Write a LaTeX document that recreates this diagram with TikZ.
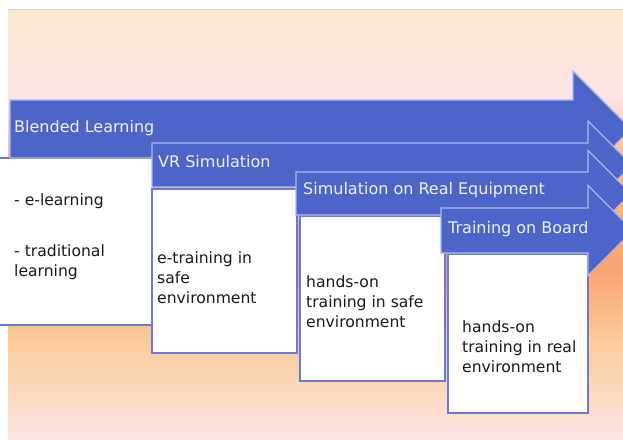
\documentclass[tikz,border=0pt]{standalone}
\usepackage{fontspec}
\setmainfont{DejaVu Sans}
\usetikzlibrary{positioning}
\definecolor{bgtop}{RGB}{251, 232, 204}
\definecolor{bgpink}{RGB}{253, 228, 232}
\definecolor{bgmid}{RGB}{249, 186, 142}
\definecolor{bgorange}{RGB}{248, 164, 114}
\definecolor{bglow}{RGB}{251, 203, 154}
\definecolor{bgbottom}{RGB}{252, 228, 226}
\definecolor{stageblue}{RGB}{77, 101, 201}
\definecolor{stageedge}{RGB}{172, 184, 234}
\definecolor{boxedge}{RGB}{104, 122, 212}
\definecolor{topline}{RGB}{196, 220, 240}
\pgfdeclareverticalshading{bgshade}{100bp}{%
  color(0bp)=(bgbottom); color(25bp)=(bgbottom); color(36.5bp)=(bglow);
  color(44.6bp)=(bgorange); color(57.4bp)=(bgmid); color(65bp)=(bgpink);
  color(75bp)=(bgtop); color(100bp)=(bgtop)}
\tikzset{
  arrowshape/.style={fill=stageblue, draw=stageedge, line width=1.2pt},
  stagebox/.style={
    rectangle, anchor=north west, inner sep=0pt, outer sep=0pt,
    fill=white, draw=boxedge, line width=1.2pt
  },
  headlabel/.style={
    font=\fontsize{16}{19}\selectfont, text=white!94!blue,
    anchor=base west, inner sep=0pt
  },
  bodytext/.style={
    font=\fontsize{15.6}{20}\selectfont, text=black!90,
    anchor=base west, align=left, inner sep=0pt
  }
}
% left x, body top, body bottom, shoulder x
\newcommand{\stagearrow}[4]{%
  \pgfmathsetmacro{\arrhalf}{(#3-#2)/2}
  \path[arrowshape] (#1,#2) -- (#4,#2) -- (#4,#2-\arrhalf)
    -- (#4+2*\arrhalf,#2+\arrhalf) -- (#4,#3+\arrhalf) -- (#4,#3)
    -- (#1,#3) -- cycle;
}

\begin{document}
\begin{tikzpicture}[x=1pt, y=-1pt]
  \useasboundingbox (0,0) rectangle (623,439);

  % ── Background ─────────────────────────────────────────────────
  \shade[shading=bgshade] (8,9) rectangle (623,439);
  \draw[topline, line width=0.8pt] (8,9) -- (623,9);

  % ── Blended Learning ───────────────────────────────────────────
  % (multi-line labels sit on the baseline of their last line)
  \node[stagebox, minimum width=156pt, minimum height=167pt] (blbox) at (-2,158) {};
  \stagearrow{10}{100}{158}{573}
  \node[headlabel] (bltitle) at (14,132) {Blended Learning};
  \node[bodytext] (elearn) at (14,205) {- e-learning};
  \node[bodytext] (tradlearn) at (14,276) {- traditional\\learning};

  % ── VR Simulation ──────────────────────────────────────────────
  \node[stagebox, minimum width=145pt, minimum height=164pt] (vrbox) at (152,189) {};
  \stagearrow{152}{143}{187}{588}
  \node[headlabel] (vrtitle) at (158,167) {VR Simulation};
  \node[bodytext] (vrtext) at (157,303) {e-training in\\safe\\environment};

  % ── Simulation on Real Equipment ───────────────────────────────
  \node[stagebox, minimum width=145pt, minimum height=165pt] (srebox) at (300,216) {};
  \stagearrow{296}{172}{215}{588}
  \node[headlabel] (sretitle) at (303,194) {Simulation on Real Equipment};
  \node[bodytext] (sretext) at (306,327) {hands-on\\training in safe\\environment};

  % ── Training on Board ──────────────────────────────────────────
  \node[stagebox, minimum width=140pt, minimum height=159pt] (tobbox) at (448,254) {};
  \stagearrow{441}{208}{253}{588}
  \node[headlabel] (tobtitle) at (448,233) {Training on Board};
  \node[bodytext] (tobtext) at (462,372) {hands-on\\training in real\\environment};

\end{tikzpicture}
\end{document}
